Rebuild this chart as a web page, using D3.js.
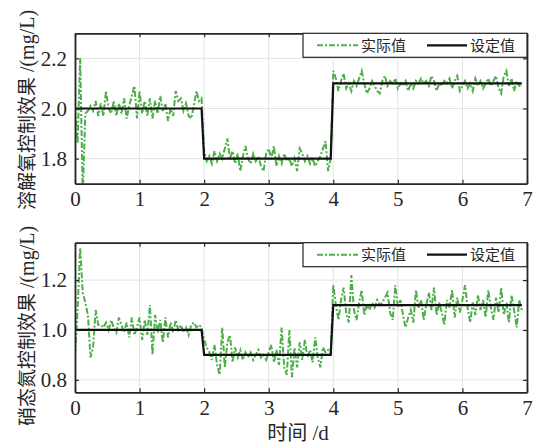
<!DOCTYPE html>
<html><head><meta charset="utf-8">
<script src="https://cdn.jsdelivr.net/npm/d3@7"></script>
<style>
body{margin:0;background:#fff;}
svg text{fill:#262626;}
</style>
</head><body>
<svg id="c" width="539" height="448"></svg>
<script>
const step = 0.04;
const xTicks = [0,1,2,3,4,5,6,7];
const doTicks = [1.8,2.0,2.2];
const no3Ticks = [0.8,1.0,1.2];
const seriesNames = ["实际值","设定值"];
const xLabelCJK = "时间", xLabelUnit = " /d";
const doLabelCJK = "溶解氧控制效果", unitLabel = " /(mg/L)";
const no3LabelCJK = "硝态氮控制效果";

const doActual = [
2.00,1.86,2.20,1.66,1.98,1.99,2.01,1.99,2.03,1.97,
2.02,1.97,2.07,2.00,1.98,2.03,1.97,2.02,1.98,2.04,
1.96,2.01,2.05,2.09,1.96,2.07,1.98,2.03,1.97,2.04,
1.96,2.03,1.98,2.05,1.99,2.02,1.95,2.00,1.97,2.07,
2.03,2.04,1.99,2.02,1.97,1.96,2.01,2.07,2.03,2.04,
1.83,1.79,1.81,1.78,1.83,1.79,1.82,1.80,1.84,1.88,
1.80,1.83,1.78,1.82,1.75,1.81,1.85,1.80,1.78,1.82,
1.79,1.81,1.77,1.75,1.82,1.84,1.80,1.85,1.77,1.81,
1.78,1.82,1.79,1.80,1.77,1.80,1.75,1.84,1.82,1.79,
1.81,1.78,1.80,1.77,1.79,1.81,1.84,1.87,1.75,1.80,
2.15,2.12,2.07,2.11,2.14,2.08,2.10,2.07,2.11,2.09,
2.12,2.15,2.10,2.06,2.08,2.11,2.09,2.07,2.06,2.11,
2.13,2.09,2.11,2.10,2.12,2.08,2.10,2.09,2.11,2.07,
2.10,2.08,2.11,2.10,2.12,2.10,2.11,2.09,2.13,2.11,
2.07,2.10,2.09,2.11,2.10,2.12,2.08,2.11,2.13,2.07,
2.09,2.11,2.08,2.10,2.07,2.12,2.09,2.11,2.08,2.10,
2.12,2.09,2.11,2.13,2.08,2.06,2.13,2.15,2.09,2.12,
2.07,2.11,2.09,2.10];

const no3Actual = [
0.90,1.08,1.33,1.15,1.11,1.06,0.89,0.93,1.08,1.02,
1.02,1.01,1.03,1.00,1.04,1.01,0.99,1.05,1.02,0.99,
1.03,0.97,1.05,0.98,1.01,1.05,0.96,1.04,0.98,1.10,
0.90,1.06,0.99,1.04,0.95,1.05,0.97,1.03,0.99,1.04,
1.00,1.02,0.99,1.01,0.98,1.02,1.03,1.01,1.02,1.01,
0.96,0.93,0.91,0.88,0.94,0.86,0.82,1.01,0.85,0.95,
0.98,0.87,0.93,0.89,0.92,0.88,0.91,0.89,0.91,0.88,
0.90,0.92,0.89,0.90,0.88,0.91,0.94,0.87,0.92,0.86,
1.01,0.85,0.82,1.00,0.81,0.93,0.85,0.95,0.88,0.96,
0.89,0.92,0.87,0.97,0.89,0.85,0.93,0.91,0.92,0.91,
1.18,1.10,1.04,1.12,1.17,1.07,1.03,1.22,1.08,1.04,
1.11,1.16,1.06,1.10,1.08,1.11,1.09,1.12,1.10,1.11,
1.13,1.15,1.07,1.04,1.18,1.09,1.12,1.06,1.01,1.05,
1.08,1.03,1.16,1.09,1.12,1.04,1.10,1.15,1.08,1.17,
1.06,1.11,1.07,1.02,1.12,1.09,1.16,1.05,1.13,1.07,
1.12,1.18,1.09,1.03,1.11,1.06,1.14,1.08,1.12,1.05,
1.16,1.09,1.04,1.13,1.07,1.17,1.06,1.11,1.03,1.14,
1.08,1.01,1.12,1.08];

const setTime = [0,1.96,2.0,3.96,4.0,6.92];
const doSet = [2.0,2.0,1.8,1.8,2.1,2.1];
const no3Set = [1.0,1.0,0.9,0.9,1.1,1.1];

const time = doActual.map((_, i) => +(i*step).toFixed(2));

const svg = d3.select("#c");
const L = 75, R = 527;
const x = d3.scaleLinear().domain([0,7]).range([L,R]);
const green = "#4dae4a";
const axisCol = "#262626";
const serif = "'Liberation Serif','DejaVu Serif',serif";
const cjk = "'Noto Sans CJK SC','Noto Sans',sans-serif";

function panel(id, top, bottom, ydom, yticks, actual, setv, ylabelCJK, ylabelCenter) {
  const y = d3.scaleLinear().domain(ydom).range([bottom, top]);
  const g = svg.append("g");
  g.append("rect").attr("x",L).attr("y",top).attr("width",R-L).attr("height",bottom-top).attr("fill","#fff");
  g.append("g").selectAll("line").data(xTicks).join("line")
    .attr("x1",d=>x(d)).attr("x2",d=>x(d)).attr("y1",top).attr("y2",bottom)
    .attr("stroke","#e3e3e3").attr("stroke-width",1);
  g.append("g").selectAll("line").data(yticks).join("line")
    .attr("x1",L).attr("x2",R).attr("y1",d=>y(d)).attr("y2",d=>y(d))
    .attr("stroke","#e3e3e3").attr("stroke-width",1);
  svg.append("clipPath").attr("id","clip"+id).append("rect")
    .attr("x",L).attr("y",top).attr("width",R-L).attr("height",bottom-top);
  const line = d3.line().x(d=>x(d[0])).y(d=>y(d[1]));
  const gc = g.append("g").attr("clip-path",`url(#clip${id})`);
  gc.append("path").datum(time.map((t,i)=>[t,actual[i]]))
    .attr("d",line).attr("fill","none").attr("stroke",green).attr("stroke-width",2)
    .attr("stroke-dasharray","6,2,2,2");
  gc.append("path").datum(setTime.map((t,i)=>[t,setv[i]]))
    .attr("d",line).attr("fill","none").attr("stroke","#111").attr("stroke-width",2.2);
  const ax = g.append("g").attr("transform",`translate(0,${bottom})`)
    .call(d3.axisBottom(x).tickValues(xTicks).tickSizeInner(-4).tickSizeOuter(0).tickPadding(10).tickFormat(d3.format("d")));
  const ay = g.append("g").attr("transform",`translate(${L},0)`)
    .call(d3.axisLeft(y).tickValues(yticks).tickSizeInner(-4).tickSizeOuter(0).tickPadding(8).tickFormat(d3.format(".1f")));
  const axt = g.append("g").attr("transform",`translate(0,${top})`)
    .call(d3.axisTop(x).tickValues(xTicks).tickSizeInner(-4).tickSizeOuter(0).tickFormat(""));
  const ayr = g.append("g").attr("transform",`translate(${R},0)`)
    .call(d3.axisRight(y).tickValues(yticks).tickSizeInner(-4).tickSizeOuter(0).tickFormat(""));
  [ax,ay,axt,ayr].forEach(a=>{
    a.attr("font-family",null).attr("font-size",null);
    a.select(".domain").attr("stroke",axisCol).attr("stroke-width",1.8);
    a.selectAll(".tick line").attr("stroke",axisCol).attr("stroke-width",1.2);
    a.selectAll("text").style("font-family",serif).style("font-size","21px").attr("fill",axisCol);
  });
  ax.selectAll("text").attr("dy","0.6em");
  const t = svg.append("text").attr("transform",`translate(34,${ylabelCenter}) rotate(-90)`)
    .attr("text-anchor","middle");
  t.append("tspan").style("font-family",cjk).style("font-size","19px").text(ylabelCJK);
  t.append("tspan").style("font-family",serif).style("font-size","20px").text(unitLabel);
  const lw = 224, lh = 24, lx = R - lw, ly = top;
  const lg = g.append("g");
  lg.append("rect").attr("x",lx).attr("y",ly).attr("width",lw).attr("height",lh)
    .attr("fill","#fff").attr("stroke",axisCol).attr("stroke-width",1.2);
  const items = [
    {name:seriesNames[0], color:green, dash:"6,2,2,2", w:2, x0:317, x1:358},
    {name:seriesNames[1], color:"#111", dash:null, w:2.2, x0:427, x1:467}
  ];
  items.forEach(it=>{
    lg.append("line").attr("x1",it.x0).attr("x2",it.x1).attr("y1",ly+lh/2).attr("y2",ly+lh/2)
      .attr("stroke",it.color).attr("stroke-width",it.w).attr("stroke-dasharray",it.dash);
    lg.append("text").attr("x",it.x1+3).attr("y",ly+lh/2).attr("dy","0.36em")
      .style("font-family",cjk).style("font-size","15px").attr("fill","#404040").text(it.name);
  });
}

panel("a", 33.3, 183.7, [1.7,2.3], doTicks, doActual, doSet, doLabelCJK, 110);
panel("b", 242.7, 392.3, [0.75,1.35], no3Ticks, no3Actual, no3Set, no3LabelCJK, 326);

const xl = svg.append("text").attr("x",298).attr("y",434).attr("dy","0.36em").attr("text-anchor","middle");
xl.append("tspan").style("font-family",cjk).style("font-size","20px").text(xLabelCJK);
xl.append("tspan").style("font-family",serif).style("font-size","21px").text(xLabelUnit);
</script>
</body></html>
